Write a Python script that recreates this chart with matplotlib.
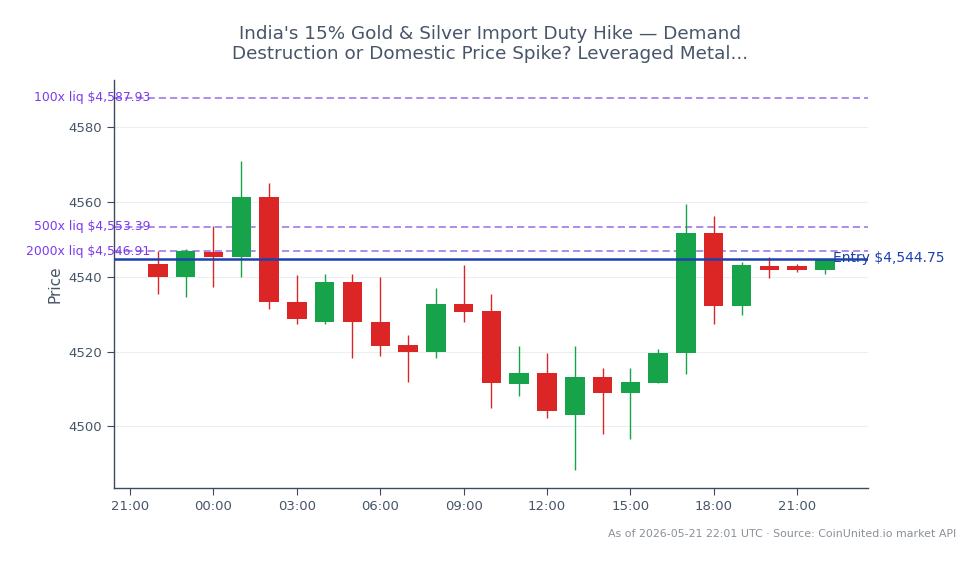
import matplotlib
matplotlib.use("Agg")
import matplotlib.pyplot as plt
import matplotlib.dates as mdates
import matplotlib.transforms as mtransforms
import pandas as pd
import numpy as np

times = pd.date_range("2026-05-20 22:00", periods=25, freq="h")
opens = [4543.4, 4540.1, 4546.6, 4545.2, 4561.3, 4533.3, 4528.0, 4538.6, 4527.9, 4521.7,
         4519.8, 4532.8, 4530.9, 4511.4, 4514.3, 4503.1, 4513.2, 4508.8, 4511.7, 4519.6,
         4551.8, 4532.2, 4542.9, 4542.9, 4541.8]
highs = [4546.9, 4547.4, 4553.7, 4571.1, 4565.2, 4540.5, 4540.8, 4540.8, 4540.1, 4524.5,
         4537.1, 4543.2, 4535.4, 4521.5, 4519.5, 4521.5, 4515.6, 4515.6, 4520.7, 4559.6,
         4556.3, 4543.9, 4545.2, 4543.5, 4544.8]
lows = [4535.3, 4534.7, 4537.4, 4540.1, 4531.5, 4527.3, 4527.5, 4518.4, 4518.9, 4512.0,
        4518.4, 4527.8, 4505.0, 4508.2, 4502.3, 4488.3, 4498.0, 4496.7, 4511.7, 4514.0,
        4527.5, 4529.9, 4539.8, 4541.4, 4540.7]
closes = [4540.1, 4547.0, 4545.4, 4561.3, 4533.4, 4528.7, 4538.6, 4528.0, 4521.6, 4519.8,
          4532.8, 4530.7, 4511.5, 4514.3, 4504.2, 4513.2, 4508.8, 4511.9, 4519.6, 4551.8,
          4532.2, 4543.2, 4541.8, 4541.8, 4544.7]

entry_price = 4544.75
liq_labels = ["100x liq $4,587.93", "500x liq $4,553.39", "2000x liq $4,546.91"]
liq_prices = [4587.93, 4553.39, 4546.91]

title = ("India's 15% Gold & Silver Import Duty Hike \u2014 Demand\n"
         "Destruction or Domestic Price Spike? Leveraged Metal...")
footer = "As of 2026-05-21 22:01 UTC \u00b7 Source: CoinUnited.io market API"

UP = "#16a34a"
DOWN = "#dc2626"
SLATE = "#475569"

fig = plt.figure(figsize=(9.8, 5.64), dpi=100)
ax = fig.add_axes([114/980, 1-488/564, (868-114)/980, (488-80)/564])

x = mdates.date2num(times.to_pydatetime())
w = 0.7/24
for xi, o, h, l, c in zip(x, opens, highs, lows, closes):
    col = UP if c >= o else DOWN
    ax.vlines(xi, l, h, color=col, linewidth=1.0, zorder=3)
    ax.bar(xi, abs(c-o) if abs(c-o) > 0.3 else 0.3, bottom=min(o, c), width=w,
           color=col, zorder=4, linewidth=0)

trans = mtransforms.blended_transform_factory(ax.transAxes, ax.transData)
for lbl, p in zip(liq_labels, liq_prices):
    ax.axhline(p, color="#a685e8", linestyle=(0, (4, 2.2)), linewidth=1.3, zorder=2)
    ax.text(36/754, p, lbl, transform=trans, ha="right", va="center",
            color="#7c3aed", fontsize=8.9, zorder=6, clip_on=False)

ax.axhline(entry_price, color="#1e40af", linewidth=1.8, zorder=5)
ax.text(719/754, entry_price + 0.25, "Entry $4,544.75", transform=trans, ha="left",
        va="center", color="#1e40af", fontsize=10, zorder=6, clip_on=False)

x0 = mdates.date2num(pd.Timestamp("2026-05-20 21:00").to_pydatetime())
ax.set_xlim(x0 - 0.58/24, x0 + 26.55/24)
ax.set_ylim(4483.5, 4592.7)
ax.set_yticks([4500, 4520, 4540, 4560, 4580])
ax.xaxis.set_major_locator(mdates.HourLocator(byhour=range(0, 24, 3)))
ax.xaxis.set_major_formatter(mdates.DateFormatter("%H:%M"))

ax.grid(axis="y", color="#eceef1", linewidth=0.8)
ax.grid(axis="x", visible=False)
ax.set_axisbelow(True)
for s in ["top", "right"]:
    ax.spines[s].set_visible(False)
for s in ["left", "bottom"]:
    ax.spines[s].set_color("#3b4a5e")
    ax.spines[s].set_linewidth(1.0)
ax.tick_params(colors=SLATE, labelsize=9.5, length=5, width=0.8)
ax.tick_params(axis="both", color="#3b4a5e")
ax.set_ylabel("Price", color=SLATE, fontsize=11)

fig.text(490/980, 1-25/564, title, ha="center", va="top", color=SLATE,
         fontsize=13.2, linespacing=1.15)
fig.text(956/980, 1-534/564, footer, ha="right", va="center", color="#8a9099",
         fontsize=7.9)

fig.savefig("out.png", dpi=100, facecolor="white")
